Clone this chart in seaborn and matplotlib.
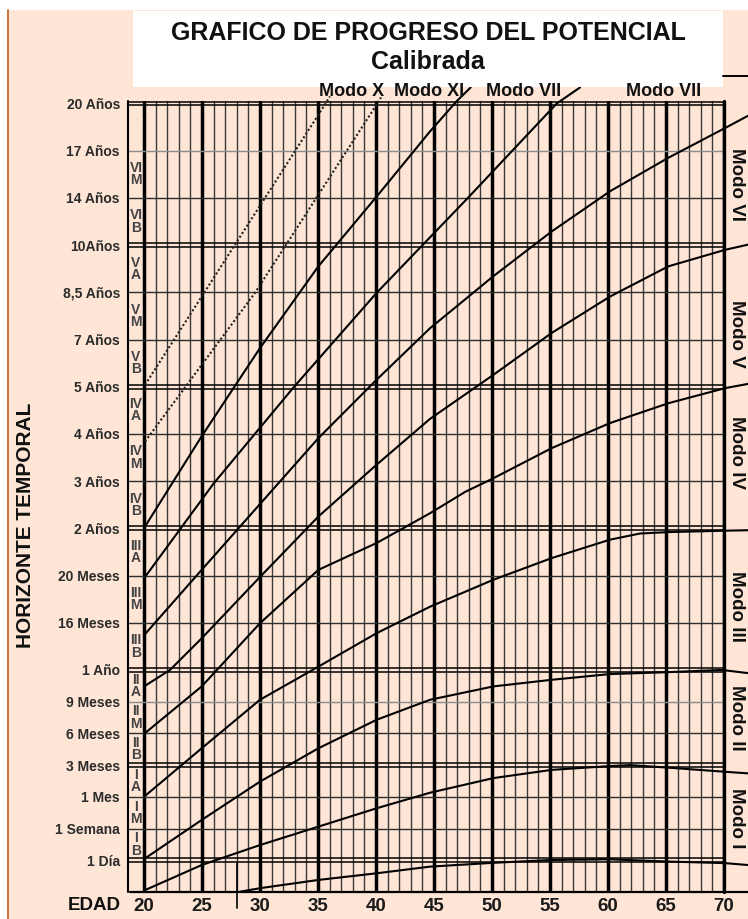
import numpy as np
import pandas as pd
import matplotlib
matplotlib.use("Agg")
import matplotlib.pyplot as plt
import seaborn as sns
from matplotlib.transforms import offset_copy
from matplotlib.patches import Rectangle
from matplotlib.lines import Line2D

# ------------------------------------------------------------------ data
nivel_ticks = list(range(1, 20))
nivel_labels = ["1 Día", "1 Semana", "1 Mes", "3 Meses", "6 Meses", "9 Meses",
                "1 Año", "16 Meses", "20 Meses", "2 Años", "3 Años", "4 Años",
                "5 Años", "7 Años", "8,5 Años", "10Años", "14 Años", "17 Años",
                "20 Años"]
edad_ticks = [20, 25, 30, 35, 40, 45, 50, 55, 60, 65, 70]
edad_labels = [str(v) for v in edad_ticks]

modo_labels = ["Modo I", "Modo II", "Modo III", "Modo IV", "Modo V", "Modo VI"]
modo_nivel = [2.33, 5.49, 8.34, 11.6, 14.12, 17.28]

sub_labels = ["I\nB", "I\nM", "I\nA", "II\nB", "II\nM", "II\nA",
              "III\nB", "III\nM", "III\nA", "IV\nB", "IV\nM", "IV\nA",
              "V\nB", "V\nM", "V\nA", "VI\nB", "VI\nM"]

top_labels = ["Modo X", "Modo XI", "Modo VII", "Modo VII"]

# curves: edad (age) and nivel (horizon level, one unit per labelled line)
edad_dot_a = [20.09, 35.6, 36.03]
nivel_dot_a = [13.04, 18.98, 19.15]
edad_dot_b = [20.09, 29.57, 40.06, 40.43]
nivel_dot_b = [11.84, 14.99, 18.98, 19.13]

edad_s1 = [20.09, 24.97, 30.0, 35.03, 40.06, 44.66, 46.96, 48.16]
nivel_s1 = [10.04, 11.95, 13.82, 15.55, 17.03, 18.41, 19.05, 19.34]

edad_s2 = [20.09, 25.97, 32.87, 40.06, 47.96, 55.58, 57.59]
nivel_s2 = [8.97, 10.94, 12.98, 14.99, 17.01, 19.0, 19.34]

edad_s3 = [20.09, 24.97, 35.03, 40.06, 44.66, 50.11, 55.15, 60.17, 65.2, 70.09, 72.07]
nivel_s3 = [7.76, 9.12, 11.91, 13.15, 14.24, 15.34, 16.29, 17.14, 17.85, 18.48, 18.74]

edad_s4 = [20.09, 22.24, 24.97, 30.0, 35.03, 40.06, 44.66, 50.11, 55.15, 60.17, 65.2, 70.09, 72.07]
nivel_s4 = [6.5, 7.0, 7.67, 8.97, 10.25, 11.35, 12.32, 13.25, 14.14, 14.91, 15.55, 15.9, 16.01]

edad_s5 = [20.09, 24.97, 30.0, 35.03, 40.06, 44.66, 47.67, 50.11, 55.15, 60.17, 65.2, 70.09, 72.07]
nivel_s5 = [5.01, 6.48, 7.99, 9.12, 9.69, 10.32, 10.77, 11.06, 11.7, 12.23, 12.65, 12.97, 13.06]

edad_s6 = [20.09, 24.97, 30.0, 35.03, 40.06, 44.66, 50.11, 55.15, 60.17, 62.76, 65.2, 70.09, 72.07]
nivel_s6 = [3.03, 4.53, 6.06, 7.07, 7.78, 8.34, 8.91, 9.37, 9.76, 9.89, 9.92, 9.95, 9.96]

edad_s7 = [20.09, 24.97, 30.0, 35.03, 40.06, 44.66, 50.11, 55.15, 60.17, 65.2, 69.8, 72.07]
nivel_s7 = [1.06, 2.27, 3.48, 4.53, 5.43, 6.06, 6.48, 6.69, 6.87, 6.93, 7.0, 6.9]

edad_s8 = [20.09, 24.97, 30.0, 35.03, 40.06, 44.66, 50.11, 55.15, 60.17, 61.9, 65.2, 70.09, 72.07]
nivel_s8 = [0.06, 0.85, 1.48, 2.06, 2.64, 3.13, 3.59, 3.85, 3.97, 4.0, 3.92, 3.79, 3.74]

edad_s9 = [28.28, 30.0, 35.03, 40.06, 44.66, 50.11, 55.15, 60.17, 65.2, 70.09, 72.07]
nivel_s9 = [0.01, 0.12, 0.38, 0.59, 0.8, 0.92, 1.01, 1.03, 0.96, 0.91, 0.85]

# ------------------------------------------------------------------ tables
def long_table(curves):
    rows = []
    for name, (ed, nv) in curves.items():
        for e, n in zip(ed, nv):
            rows.append({"curva": name, "edad": e, "nivel": n})
    return pd.DataFrame(rows)

df_solid = long_table({"s1": (edad_s1, nivel_s1), "s2": (edad_s2, nivel_s2),
                       "s3": (edad_s3, nivel_s3), "s4": (edad_s4, nivel_s4),
                       "s5": (edad_s5, nivel_s5), "s6": (edad_s6, nivel_s6),
                       "s7": (edad_s7, nivel_s7), "s8": (edad_s8, nivel_s8),
                       "s9": (edad_s9, nivel_s9)})
df_dot = long_table({"a": (edad_dot_a, nivel_dot_a), "b": (edad_dot_b, nivel_dot_b)})

# ------------------------------------------------------------------ style
sns.set_style("white")
plt.rcParams["font.family"] = ["Liberation Sans", "DejaVu Sans"]
PEACH = "#FEE5D5"
W, H = 748, 919

def fx(px):
    return px / W

def fy(py):
    return 1 - py / H

fig = plt.figure(figsize=(W / 100, H / 100), dpi=100, facecolor=PEACH)
fig.add_artist(Rectangle((0, fy(10)), 1, 10 / H, transform=fig.transFigure,
                         facecolor="white", edgecolor="none", zorder=0))
fig.add_artist(Rectangle((0, 0), fx(7), 1, transform=fig.transFigure,
                         facecolor="white", edgecolor="none", zorder=0))
fig.add_artist(Line2D([fx(7.5), fx(7.5)], [0, fy(10)], color="#C96A2E", lw=1.3))
fig.add_artist(Rectangle((fx(133), fy(87)), fx(723) - fx(133), (87 - 11) / H,
                         transform=fig.transFigure, facecolor="white",
                         edgecolor="none", zorder=1))
fig.text(fx(428), fy(33), "GRAFICO DE PROGRESO DEL POTENCIAL", ha="center",
         va="center", fontsize=18, fontweight="bold", color="#111111", zorder=3)
fig.text(fx(428), fy(62), "Calibrada", ha="center", va="center", fontsize=18,
         fontweight="bold", color="#111111", zorder=3)
fig.add_artist(Line2D([fx(723), 1], [fy(76), fy(76)], color="black", lw=1.4))

ax = fig.add_axes([fx(128), fy(892), fx(724) - fx(128), (892 - 101) / H])
ax.set_facecolor(PEACH)
for s in ax.spines.values():
    s.set_visible(False)

# curves
sns.lineplot(data=df_solid, x="edad", y="nivel", units="curva", estimator=None,
             color="black", linewidth=1.5, ax=ax, zorder=5)
n1 = len(ax.lines)
sns.lineplot(data=df_dot, x="edad", y="nivel", units="curva", estimator=None,
             color="#222222", linewidth=1.5, ax=ax, zorder=5)
for i, ln in enumerate(ax.lines):
    ln.set_clip_on(False)
    ln.set_solid_joinstyle("round")
    if i >= n1:
        ln.set_dashes((1.0, 1.1))

# piecewise vertical scale: lower bands narrower than upper bands
R = 47.17 / 31.7

def fwd(y):
    y = np.asarray(y, dtype=float)
    return np.where(y <= 7, y, 7 + (y - 7) * R)

def inv(u):
    u = np.asarray(u, dtype=float)
    return np.where(u <= 7, u, 7 + (u - 7) / R)

ax.set_yscale("function", functions=(fwd, inv))
XMIN, XMAX = 18.62, 70
ax.set_xlim(XMIN, XMAX)
ax.set_ylim(0, 19.053)

# vertical grid
ax.set_xticks(edad_ticks)
ax.set_xticks([v for v in range(21, 70) if v % 5], minor=True)
ax.grid(axis="x", which="major", color="black", lw=2.5, zorder=1)
ax.grid(axis="x", which="minor", color="#3a3a3a", lw=1.0, zorder=1)
ax.grid(axis="y", visible=False)
ax.set_axisbelow(True)

# horizontal lines
for b in nivel_ticks:
    if b in (1, 4, 7, 10, 13, 16, 19):
        for dy in (-1.9, 1.9):
            tr = offset_copy(ax.transData, fig=fig, x=0, y=dy, units="dots")
            ax.plot([XMIN, XMAX], [b, b], color="black", lw=1.1, transform=tr,
                    zorder=2, clip_on=False)
    else:
        col = "#8c8c8c" if b in (6, 18) else "#2e2e2e"
        ax.plot([XMIN, XMAX], [b, b], color=col, lw=1.0, zorder=2)

# borders
ax.plot([0, 0], [0, 1], transform=ax.transAxes, color="black", lw=1.5,
        clip_on=False, zorder=3)
ax.plot([1, 1], [0, 1], transform=ax.transAxes, color="black", lw=2.4,
        clip_on=False, zorder=3)
ax.plot([0.003, (748 - 128) / (724 - 128)], [0, 0], transform=ax.transAxes,
        color="black", lw=1.6, clip_on=False, zorder=3)
ax.plot([28, 28], [0.91, -0.5], color="black", lw=1.2, clip_on=False, zorder=3)

# tick labels
ax.set_yticks(nivel_ticks)
ax.set_yticklabels(nivel_labels)
ax.set_xticklabels(edad_labels)
ax.tick_params(axis="y", length=0, pad=5.8, labelsize=10, labelcolor="#2b2b2b")
ax.tick_params(axis="x", which="both", length=0, pad=4.5, labelsize=13.5,
               labelcolor="#1a1a1a")
for t in ax.get_yticklabels() + ax.get_xticklabels():
    t.set_fontweight("bold")
ax.set_xlabel("")
ax.set_ylabel("")

# sub-band labels in left column
for k, lab in enumerate(sub_labels):
    ax.text(19.31, k + 1.5, lab, ha="center", va="center", fontsize=10,
            fontweight="bold", color="#444444", linespacing=0.85, zorder=4)
ax.text(19.31, 18.62, ":", ha="center", va="center", fontsize=5, color="#aaaaaa")

# right-hand mode labels
for lab, yv in zip(modo_labels, modo_nivel):
    ax.text(71.12, yv, lab, ha="center", va="center", rotation=-90,
            fontsize=13.5, fontweight="bold", color="#111111", clip_on=False)

# top labels
for lab, px in zip(top_labels, [352, 429, 524, 664]):
    fig.text(fx(px), fy(91), lab, ha="center", va="center", fontsize=13,
             fontweight="bold", color="#111111", zorder=6)

fig.text(fx(26), fy(525), "HORIZONTE TEMPORAL", rotation=90, ha="center",
         va="center", fontsize=15, fontweight="bold", color="#111111")
fig.text(fx(94), fy(905), "EDAD", ha="center", va="center", fontsize=13.5,
         fontweight="bold", color="#111111")

fig.savefig("out.png", dpi=100, facecolor=PEACH)
